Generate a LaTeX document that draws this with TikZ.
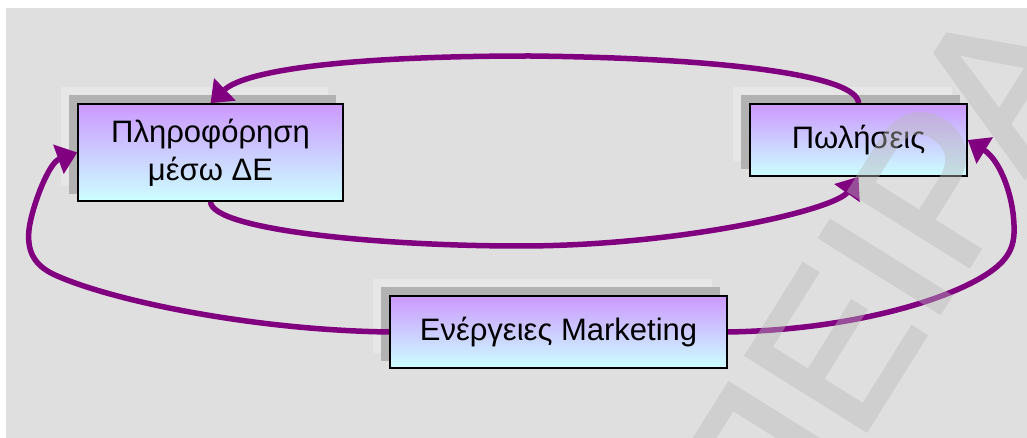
\documentclass[tikz,border=0pt]{standalone}
\usepackage{fontspec}
\setmainfont{Liberation Sans}
\newfontfamily\stampfont[FakeBold=2]{Liberation Sans}
\usetikzlibrary{arrows.meta,calc}

\definecolor{panel}{HTML}{DFDFDF}
\definecolor{shadowdark}{HTML}{B2B2B2}
\definecolor{shadowlight}{HTML}{E6E6E6}
\definecolor{boxtop}{HTML}{CC99FF}
\definecolor{boxbottom}{HTML}{CCFFFF}
\definecolor{flow}{HTML}{800080}
\definecolor{stamp}{HTML}{B9B9B9}

\pgfdeclarelayer{back}
\pgfdeclarelayer{mid}
\pgfdeclarelayer{front}
\pgfsetlayers{back,mid,main,front}

\tikzset{
  stepbox/.style={draw=black, line width=1.5pt, top color=boxtop, bottom color=boxbottom,
    inner sep=0pt, align=center, font=\fontsize{31}{38}\selectfont},
  flowline/.style={draw=flow, line width=5.5pt,
    -{Triangle[length=20pt,width=30pt]}},
}

\begin{document}
\begin{tikzpicture}[x=1pt,y=-1pt]
\useasboundingbox (0,0) rectangle (1027,438);

% boxes
\node[stepbox, minimum width=265pt, minimum height=97pt] (info) at (210.5,152.5)
  {Πληροφόρηση\\μέσω ΔΕ};
\node[stepbox, minimum width=217pt, minimum height=72pt] (sales) at (858.5,140)
  {Πωλήσεις};
\node[stepbox, minimum width=337pt, minimum height=72pt] (mkt) at (558.5,332)
  {Ενέργειες Marketing};

% panel and stacked shadows
\begin{pgfonlayer}{back}
  \fill[panel] (6,8) rectangle (1027,438);
  \foreach \n in {info,sales,mkt}{
    \fill[shadowlight] ($(\n.south west)+(-16,-16)$) rectangle ($(\n.north east)+(-16,-16)$);
    \fill[shadowdark] ($(\n.south west)+(-8,-8)$) rectangle ($(\n.north east)+(-8,-8)$);
  }
\end{pgfonlayer}

% connectors
\begin{pgfonlayer}{mid}
  \draw[flowline] (sales.north) .. controls (858,75) and (720,58) .. (530,56)
     .. controls (350,56) and (245,70) .. (info.north);
  \draw[flowline] (info.south) .. controls (212,230) and (380,246) .. (520,246)
     .. controls (680,246) and (835,210) .. (sales.south);
  \draw[flowline] (mkt.west) .. controls (250,330) and (110,300) .. (55,275)
     .. controls (33,265) and (27,250) .. (29,230)
     .. controls (31,210) and (48,163) .. (info.west);
  \draw[flowline] (mkt.east) .. controls (850,330) and (950,300) .. (990,272)
     .. controls (1010,258) and (1015,245) .. (1014,225)
     .. controls (1013,195) and (1000,160) .. (sales.east);
\end{pgfonlayer}

% diagonal stamp across the right side, flattened into one translucent group
\begin{pgfonlayer}{front}
  \begin{scope}[transparency group, opacity=0.42]
    \clip (6,8) rectangle (1027,438);
    \node[rotate=58, anchor=base west, inner sep=0pt, text=stamp,
      font=\stampfont\fontsize{205}{205}\selectfont] (stamp) at (779,570) {ΠΕΙΡΑ};
  \end{scope}
\end{pgfonlayer}
\end{tikzpicture}
\end{document}
